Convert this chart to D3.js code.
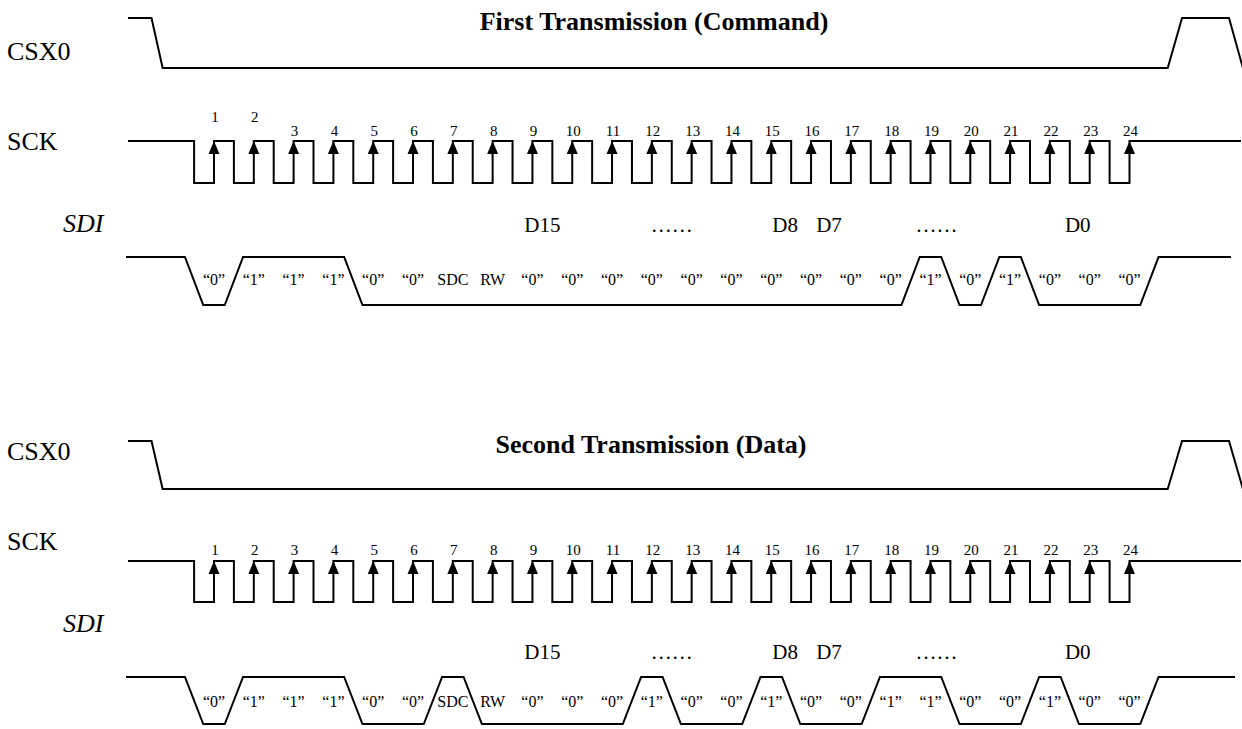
<!DOCTYPE html>
<html>
<head>
<meta charset="utf-8">
<script src="https://cdn.jsdelivr.net/npm/d3@7"></script>
<style>
body { margin: 0; background: #fff; }
svg text { font-family: "Liberation Serif", "Times New Roman", Times, serif; fill: #000; }
</style>
</head>
<body>
<svg id="chart" width="1242" height="729"></svg>
<script>
// clock edge numbers printed over SCK
const clockLabels = [1, 2, 3, 4, 5, 6, 7, 8, 9, 10, 11, 12, 13, 14, 15, 16, 17, 18, 19, 20, 21, 22, 23, 24];

// CSX0 corners, time in clock units, level 1 = high
const csxTimes = [-1.16, -0.57, -0.29, 24.96, 25.32, 26.5, 26.85];
const csxLevels = [1, 1, 0, 0, 1, 1, 0];

// SDI bits for each transmission
const cmdBits = [0, 1, 1, 1, 0, 0, 0, 0, 0, 0, 0, 0, 0, 0, 0, 0, 0, 0, 1, 0, 1, 0, 0, 0];
const cmdText = ["“0”", "“1”", "“1”", "“1”", "“0”", "“0”", "SDC", "RW",
    "“0”", "“0”", "“0”", "“0”", "“0”", "“0”", "“0”", "“0”", "“0”", "“0”",
    "“1”", "“0”", "“1”", "“0”", "“0”", "“0”"];
const dataBits = [0, 1, 1, 1, 0, 0, 1, 0, 0, 0, 0, 1, 0, 0, 1, 0, 0, 1, 1, 0, 0, 1, 0, 0];
const dataText = ["“0”", "“1”", "“1”", "“1”", "“0”", "“0”", "SDC", "RW",
    "“0”", "“0”", "“0”", "“1”", "“0”", "“0”", "“1”", "“0”", "“0”", "“1”",
    "“1”", "“0”", "“0”", "“1”", "“0”", "“0”"];

// field names above SDI
const fieldNames = ["D15", "……", "D8", "D7", "……", "D0"];
const fieldTimes = [9.25, 12.5, 15.35, 16.45, 19.15, 22.7];

const titles = ["First Transmission (Command)", "Second Transmission (Data)"];

svg = d3.select("#chart");
x = d3.scaleLinear().domain([1, 24]).range([214, 1129.5]);
line = d3.line().x(d => x(d.t)).y(d => d.y);

panels = [
    {title: titles[0], titleX: 654, titleY: 30, csxLabelY: 60, csxHi: 18, csxLo: 68,
     sckLabelY: 150, sckHi: 141, sckLo: 183, numY: 136, raised: [1, 2], raisedY: 122,
     sdiLabelY: 232, fieldY: 232, sdiHi: 257, sdiLo: 305, bitY: 285, sdiEnd: 26.55,
     bits: cmdBits, text: cmdText},
    {title: titles[1], titleX: 651, titleY: 453, csxLabelY: 460, csxHi: 441, csxLo: 489,
     sckLabelY: 550, sckHi: 561, sckLo: 602, numY: 555, raised: [], raisedY: 555,
     sdiLabelY: 632, fieldY: 659, sdiHi: 677, sdiLo: 724, bitY: 707, sdiEnd: 26.65,
     bits: dataBits, text: dataText}
];

panels.forEach(p => drawPanel(p));

function drawPanel(p) {
    g = svg.append("g");

    g.append("text")
        .attr("x", p.titleX).attr("y", p.titleY)
        .attr("text-anchor", "middle")
        .style("font-size", "26px").style("font-weight", "bold")
        .text(p.title);

    // signal names
    g.append("text").attr("x", 7).attr("y", p.csxLabelY).style("font-size", "26px").text("CSX0");
    g.append("text").attr("x", 7).attr("y", p.sckLabelY).style("font-size", "26px").text("SCK");
    g.append("text").attr("x", 63).attr("y", p.sdiLabelY)
        .style("font-size", "26px").style("font-style", "italic").text("SDI");

    // CSX0
    csxY = d3.scaleLinear().domain([0, 1]).range([p.csxLo, p.csxHi]);
    csxPts = csxTimes.map((t, i) => ({t: t, y: csxY(csxLevels[i])}));
    drawWave(g, csxPts);

    // SCK: falls half a period before every rising edge
    sckY = d3.scaleLinear().domain([0, 1]).range([p.sckLo, p.sckHi]);
    sckPts = [{t: -1.16, y: sckY(1)}];
    clockLabels.forEach(k => {
        sckPts.push({t: k - 0.5, y: sckY(1)}, {t: k - 0.5, y: sckY(0)},
                    {t: k, y: sckY(0)}, {t: k, y: sckY(1)});
    });
    sckPts.push({t: 26.8, y: sckY(1)});
    drawWave(g, sckPts);

    // arrow heads on rising edges
    g.selectAll("path.arrow")
        .data(clockLabels)
        .enter().append("path")
        .attr("class", "arrow")
        .attr("d", k => `M${x(k)},${sckY(1)} L${x(k) - 5.5},${sckY(1) + 13} L${x(k) + 5.5},${sckY(1) + 13} Z`)
        .attr("fill", "#000");

    g.selectAll("text.num")
        .data(clockLabels)
        .enter().append("text")
        .attr("class", "num")
        .attr("x", k => x(k) + 1)
        .attr("y", k => p.raised.includes(k) ? p.raisedY : p.numY)
        .attr("text-anchor", "middle")
        .style("font-size", "15px")
        .text(k => k);

    // SDI, bit k valid from falling edge k-0.5 to k+0.5
    sdiY = d3.scaleLinear().domain([0, 1]).range([p.sdiLo, p.sdiHi]);
    h = 0.23;
    sdiPts = [{t: -1.21, y: sdiY(1)}];
    prev = 1;
    p.bits.concat([1]).forEach((b, i) => {
        edge = i + 0.5;
        if (b !== prev) {
            sdiPts.push({t: edge - h, y: sdiY(prev)}, {t: edge + h, y: sdiY(b)});
        }
        prev = b;
    });
    sdiPts.push({t: p.sdiEnd, y: sdiY(1)});
    drawWave(g, sdiPts);

    g.selectAll("text.bit")
        .data(p.text)
        .enter().append("text")
        .attr("class", "bit")
        .attr("x", (d, i) => x(i + 1))
        .attr("y", p.bitY)
        .attr("text-anchor", "middle")
        .style("font-size", "16px")
        .text(d => d);

    g.selectAll("text.field")
        .data(fieldNames)
        .enter().append("text")
        .attr("class", "field")
        .attr("x", (d, i) => x(fieldTimes[i]))
        .attr("y", p.fieldY)
        .attr("text-anchor", "middle")
        .style("font-size", "21px")
        .text(d => d);
}

function drawWave(g, pts) {
    g.append("path")
        .attr("d", line(pts))
        .attr("fill", "none")
        .attr("stroke", "#000")
        .attr("stroke-width", 2)
        .attr("stroke-linejoin", "miter");
}
</script>
</body>
</html>
